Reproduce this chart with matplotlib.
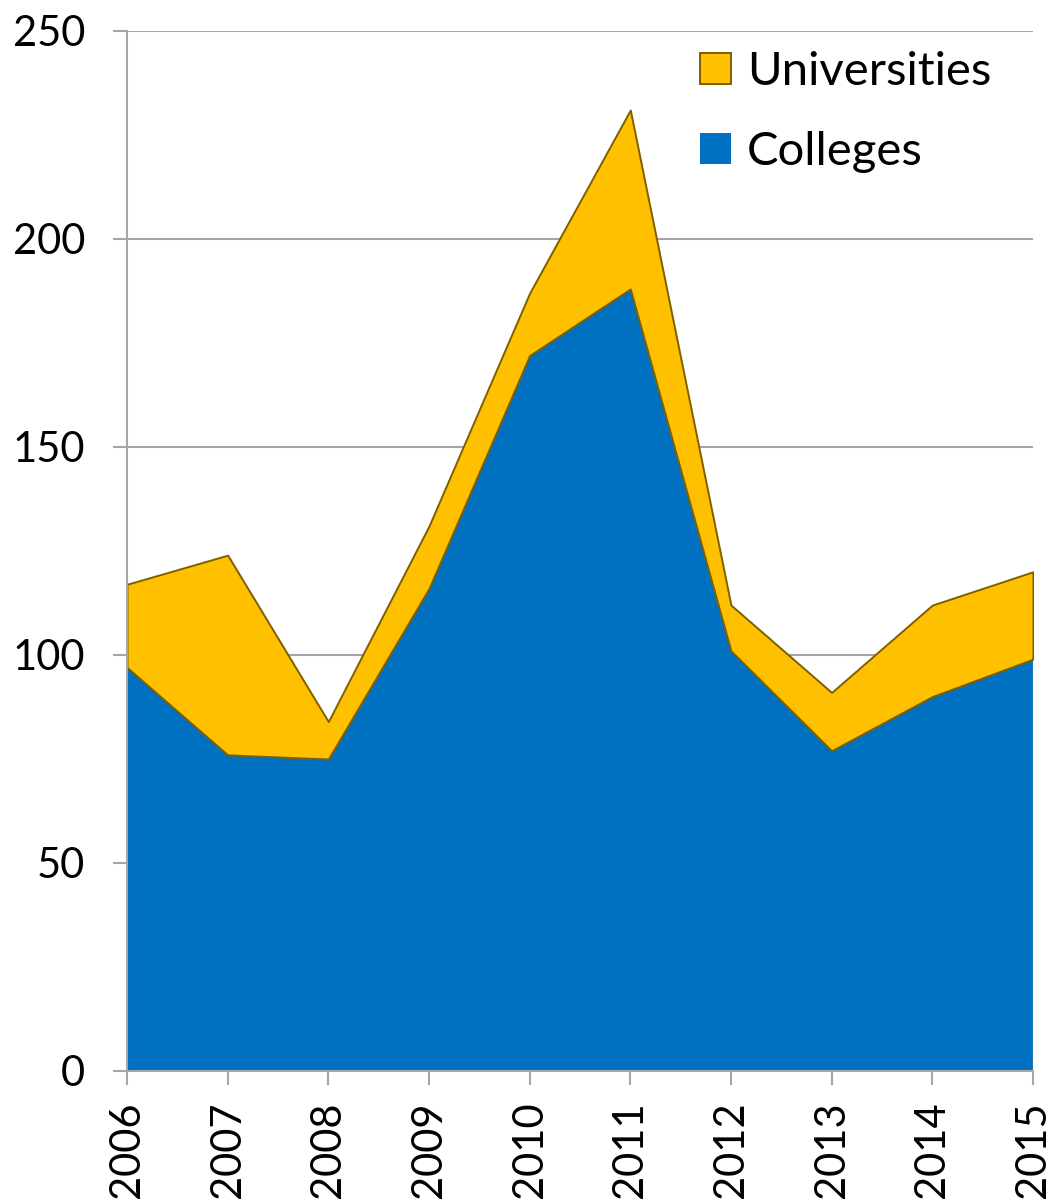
import matplotlib
matplotlib.use('Agg')
import matplotlib.pyplot as plt

years = [2006, 2007, 2008, 2009, 2010, 2011, 2012, 2013, 2014, 2015]
colleges = [97, 76, 75, 116, 172, 188, 101, 77, 90, 99]
universities = [20, 48, 9, 15, 15, 43, 11, 14, 22, 21]
y_ticks = [0, 50, 100, 150, 200, 250]

plt.rcParams['font.family'] = ['Lato', 'DejaVu Sans']

GRAY = '#A6A6A6'


def plot_area(ax):
    polys = ax.stackplot(years, colleges, universities,
                         colors=['#0070C0', '#FFC000'],
                         labels=['Colleges', 'Universities'])
    polys[0].set_edgecolor('none')
    polys[1].set_edgecolor('#7F6000')
    polys[1].set_linewidth(1.4)

    ax.set_xlim(years[0], years[-1])
    ax.set_ylim(0, 250)
    ax.set_xticks(years)
    ax.set_xticklabels([str(y) for y in years], rotation=90)
    ax.set_yticks(y_ticks)

    ax.grid(True, axis='y', color=GRAY, linewidth=1.5, zorder=0)
    ax.set_axisbelow(True)
    for side in ['top', 'right']:
        ax.spines[side].set_visible(False)
    for side in ['left', 'bottom']:
        ax.spines[side].set_color(GRAY)
        ax.spines[side].set_linewidth(1.5)

    ax.tick_params(axis='both', colors=GRAY, labelcolor='black',
                   length=10, width=1.5, labelsize=30)
    ax.tick_params(axis='y', pad=20)
    ax.tick_params(axis='x', pad=12)

    handles, labels = ax.get_legend_handles_labels()
    ax.legend(handles[::-1], labels[::-1], loc='upper left',
              bbox_to_anchor=(0.633, 0.981), frameon=False, fontsize=34,
              borderpad=0, borderaxespad=0,
              handlelength=0.64, handleheight=0.64, handletextpad=0.35,
              labelspacing=0.81)


def main():
    fig = plt.figure(figsize=(10.54, 12), dpi=100)
    ax = fig.add_axes([0.1205, 0.1075, 0.8595, 0.8667])
    plot_area(ax)
    fig.savefig('out.png', dpi=100)


if __name__ == '__main__':
    main()
